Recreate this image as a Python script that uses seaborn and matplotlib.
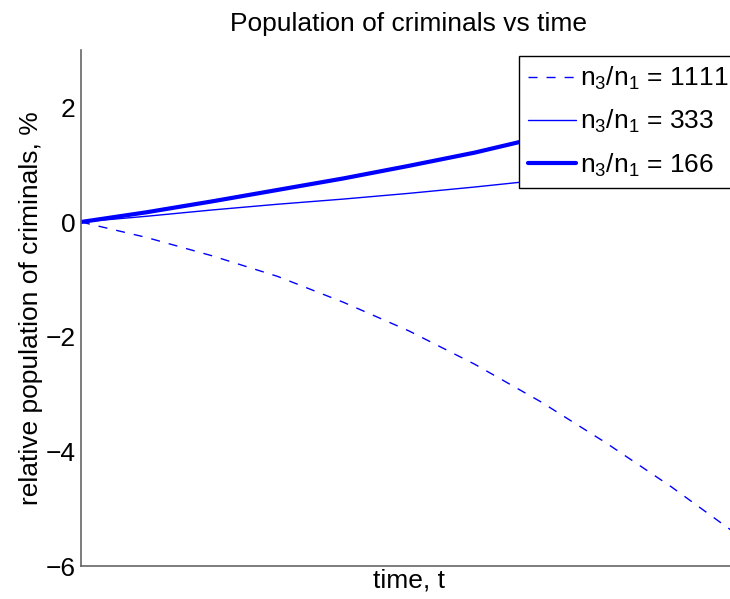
import matplotlib
matplotlib.use("Agg")
import matplotlib.pyplot as plt
import seaborn as sns
import pandas as pd

# ---- data ----
time = [0.0, 0.1, 0.2, 0.3, 0.4, 0.5, 0.6, 0.7, 0.8, 0.9, 1.0]
ratio_1111 = [0.0, -0.27, -0.59, -0.95, -1.40, -1.90, -2.48, -3.13, -3.85, -4.62, -5.45]
ratio_333 = [0.0, 0.10, 0.21, 0.31, 0.40, 0.50, 0.61, 0.73, 0.86, 1.00, 1.15]
ratio_166 = [0.0, 0.17, 0.36, 0.56, 0.76, 0.98, 1.21, 1.48, 1.77, 2.08, 2.42]
labels = [r"n$_3$/n$_1$ = 1111", r"n$_3$/n$_1$ = 333", r"n$_3$/n$_1$ = 166"]
yticks = [-6, -4, -2, 0, 2]

sns.set_style("white")
plt.rcParams["font.family"] = ["Liberation Sans", "DejaVu Sans"]
plt.rcParams["mathtext.fontset"] = "custom"
plt.rcParams["mathtext.rm"] = "Liberation Sans"
plt.rcParams["mathtext.it"] = "Liberation Sans"
plt.rcParams["mathtext.bf"] = "Liberation Sans"
for key in ["text.color", "axes.labelcolor", "xtick.color", "ytick.color"]:
    plt.rcParams[key] = "black"

fig = plt.figure(figsize=(7.30, 5.99), dpi=100)
ax = fig.add_axes([81 / 730, 1 - 566 / 599, 656 / 730, 516 / 599])

df = pd.DataFrame({"t": time, "a": ratio_1111, "b": ratio_333, "c": ratio_166})

sns.lineplot(data=df, x="t", y="a", ax=ax, color="blue", lw=1.0,
             linestyle=(0, (6.5, 6.5)), label=labels[0])
sns.lineplot(data=df, x="t", y="b", ax=ax, color="blue", lw=1.0, label=labels[1])
sns.lineplot(data=df, x="t", y="c", ax=ax, color="blue", lw=3.0, label=labels[2])

ax.set_xlim(0, 1.0)
ax.set_ylim(-6, 3)
ax.set_xticks([])
ax.set_yticks(yticks)
ax.set_yticklabels([str(v).replace("-", "\u2212") for v in yticks])
ax.tick_params(axis="y", direction="in", length=4, width=0.8, color="#555555",
               labelsize=19, pad=4)

for s in ["top", "right"]:
    ax.spines[s].set_visible(False)
for s in ["left", "bottom"]:
    ax.spines[s].set_color("#666666")
    ax.spines[s].set_linewidth(1.2)

ax.set_xlabel("time, t", fontsize=19, labelpad=2)
ax.set_ylabel("relative population of criminals, %", fontsize=19, labelpad=2)
ax.set_title("Population of criminals vs time", fontsize=19, pad=14)

leg = ax.legend(loc="upper left", bbox_to_anchor=(519 / 730, 1 - 56 / 599),
                bbox_transform=fig.transFigure, fontsize=19, frameon=True,
                fancybox=False, framealpha=1, edgecolor="black",
                handlelength=1.8, handletextpad=0.15, labelspacing=0.6,
                borderpad=0.35, borderaxespad=0)
leg.get_frame().set_linewidth(1.0)

fig.savefig("out.png", dpi=100)
